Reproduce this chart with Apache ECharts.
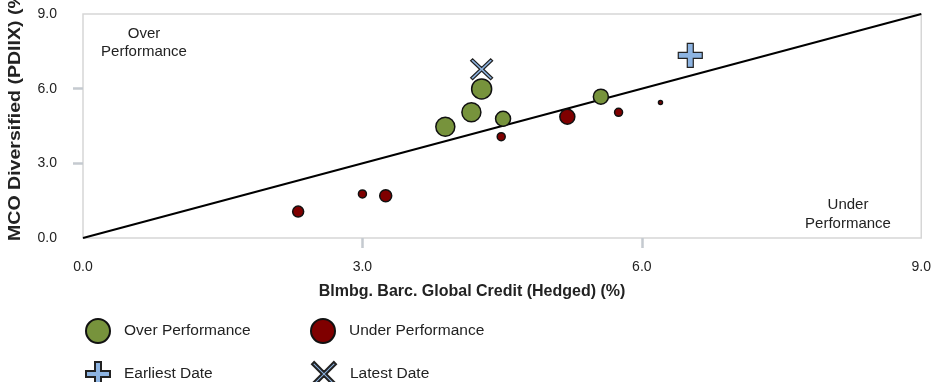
<!DOCTYPE html>
<html>
<head>
<meta charset="utf-8">
<script src="https://cdn.jsdelivr.net/npm/echarts@6/dist/echarts.min.js"></script>
<style>
html,body{margin:0;padding:0;background:#fff;}
#chart{width:934px;height:382px;}
</style>
</head>
<body>
<div id="chart"></div>
<script>
// ---- data ----
const overX = [3.89, 4.17, 4.28, 4.51, 5.56];
const overY = [4.47, 5.05, 5.99, 4.79, 5.68];
const overW = [19, 19, 20, 15, 15];
const underX = [2.31, 3.00, 3.25, 4.49, 5.20, 5.75, 6.20];
const underY = [1.06, 1.77, 1.70, 4.07, 4.87, 5.05, 5.44];
const underW = [11, 8, 12, 8, 15, 8, 4];
const earliest = [6.52, 7.34];
const latest = [4.28, 6.78];
const refLine = [[0, 0], [9, 9]];
const axisMin = 0, axisMax = 9, axisStep = 3;
const tickValues = [3, 6];
const xTitle = 'Blmbg. Barc. Global Credit (Hedged) (%)';
const yTitle = 'MCO Diversified (PDIIX) (%)';
const names = ['Over Performance', 'Under Performance', 'Earliest Date', 'Latest Date'];

const PLUS = 'path://M7.5,0 H12.5 V7.5 H20 V12.5 H12.5 V20 H7.5 V12.5 H0 V7.5 H7.5 Z';
const CROSS = 'path://M0,1.8 L1.8,0 L10,8.2 L18.2,0 L20,1.8 L11.8,10 L20,18.2 L18.2,20 L10,11.8 L1.8,20 L0,18.2 L8.2,10 Z';

const overData = overX.map((x, i) => [x, overY[i], overW[i]]);
const underData = underX.map((x, i) => [x, underY[i], underW[i]]);

const FONT = '"Liberation Sans", Arial, sans-serif';
const chart = echarts.init(document.getElementById('chart'), null, {renderer: 'canvas'});
const axisCommon = {
  type: 'value', min: axisMin, max: axisMax, interval: axisStep,
  offset: 3,
  axisLine: {show: false},
  splitLine: {show: false},
  axisTick: {show: true, customValues: tickValues, length: 10, lineStyle: {color: '#c5cad0', width: 2.5}},
  axisLabel: {formatter: v => v.toFixed(1), color: '#222', fontSize: 14, fontFamily: FONT}
};
function legendItem(name, icon, left, top) {
  return {data: [{name: name, icon: icon}], orient: 'horizontal', left: left, top: top,
    itemWidth: 24, itemHeight: 24, padding: 0, selectedMode: false,
    textStyle: {fontSize: 15.5, color: '#222', padding: [0, 0, 0, 9], fontFamily: FONT}};
}
chart.setOption({
  animation: false,
  backgroundColor: '#fff',
  grid: {left: 83, right: 12, top: 14, bottom: 144, show: true, borderColor: '#d6d6d6', borderWidth: 1.5, backgroundColor: 'transparent'},
  xAxis: Object.assign({}, axisCommon, {
    axisLabel: Object.assign({}, axisCommon.axisLabel, {margin: 19})
  }),
  yAxis: Object.assign({}, axisCommon, {
    axisLabel: Object.assign({}, axisCommon.axisLabel, {margin: 23})
  }),
  legend: [
    legendItem(names[0], 'circle', 85, 318),
    legendItem(names[2], PLUS, 85, 361),
    legendItem(names[1], 'circle', 310, 318),
    legendItem(names[3], CROSS, 311, 361)
  ],
  graphic: [
    {type: 'text', x: 15, y: 241, rotation: Math.PI / 2, scaleX: 1.15,
     style: {text: yTitle, x: 0, y: 0, align: 'left', verticalAlign: 'middle', textAlign: 'left', textVerticalAlign: 'middle',
             font: 'bold 17px ' + FONT, fill: '#222'}},
    {type: 'text', x: 472, y: 292,
     style: {text: xTitle, x: 0, y: 0, align: 'center', verticalAlign: 'middle', textAlign: 'center', textVerticalAlign: 'middle',
             font: 'bold 16px ' + FONT, fill: '#222'}},
    {type: 'text', x: 144, y: 43,
     style: {text: 'Over\nPerformance', x: 0, y: 0, align: 'center', verticalAlign: 'middle', textAlign: 'center', textVerticalAlign: 'middle',
             font: '15px ' + FONT, lineHeight: 18, fill: '#222'}},
    {type: 'text', x: 848, y: 214,
     style: {text: 'Under\nPerformance', x: 0, y: 0, align: 'center', verticalAlign: 'middle', textAlign: 'center', textVerticalAlign: 'middle',
             font: '15px ' + FONT, lineHeight: 19, fill: '#222'}}
  ],
  series: [
    {type: 'line', data: refLine, symbol: 'none', lineStyle: {color: '#000', width: 2}, z: 1, silent: true},
    {name: names[0], type: 'scatter', data: overData, symbol: 'circle', symbolSize: d => d[2],
     itemStyle: {color: '#77933c', borderColor: '#111', borderWidth: 1.5, opacity: 1}, z: 3},
    {name: names[1], type: 'scatter', data: underData, symbol: 'circle', symbolSize: d => d[2],
     itemStyle: {color: '#7f0000', borderColor: '#111', borderWidth: 1.5, opacity: 1}, z: 3},
    {name: names[2], type: 'scatter', data: [earliest], symbol: PLUS, symbolSize: 24,
     itemStyle: {color: '#8db4e2', borderColor: '#222', borderWidth: 1.2, opacity: 1}, z: 4},
    {name: names[3], type: 'scatter', data: [latest], symbol: CROSS, symbolSize: [22, 21],
     itemStyle: {color: '#8db4e2', borderColor: '#222', borderWidth: 1.2, opacity: 1}, z: 4}
  ]
});
</script>
</body>
</html>
